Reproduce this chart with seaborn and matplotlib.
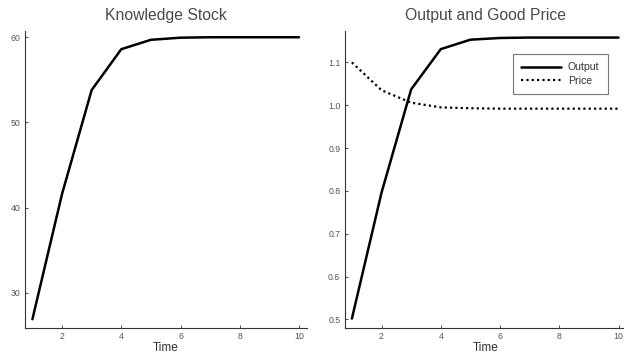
import matplotlib
matplotlib.use("Agg")
import matplotlib.pyplot as plt
import seaborn as sns
import pandas as pd

time = [1, 2, 3, 4, 5, 6, 7, 8, 9, 10]
knowledge = [26.9, 41.6, 53.8, 58.6, 59.7, 59.95, 60.0, 60.0, 60.0, 60.0]
output = [0.502, 0.796, 1.037, 1.131, 1.153, 1.157, 1.158, 1.158, 1.158, 1.158]
price = [1.100, 1.035, 1.006, 0.995, 0.993, 0.992, 0.992, 0.992, 0.992, 0.992]

sns.set_style("ticks")
plt.rcParams["font.family"] = ["Liberation Sans", "DejaVu Sans"]

df_k = pd.DataFrame({"Time": time, "Knowledge": knowledge})
df_o = pd.DataFrame({"Time": time, "Output": output, "Price": price})

fig = plt.figure(figsize=(6.24, 3.55), dpi=100)
W, H = 624, 355
axw = 282 / W
axb = 1 - 328 / H
axh = (328 - 30.7) / H
ax1 = fig.add_axes([25 / W, axb, axw, axh])
ax2 = fig.add_axes([344.5 / W, axb, axw, axh])

sns.lineplot(data=df_k, x="Time", y="Knowledge", ax=ax1, color="black", lw=1.8)
sns.lineplot(data=df_o, x="Time", y="Output", ax=ax2, color="black", lw=1.8, label="Output")
sns.lineplot(data=df_o, x="Time", y="Price", ax=ax2, color="black", lw=1.6,
             linestyle=(0, (1, 1.4)), label="Price")

ax1.set_xlim(0.75, 10.27)
ax1.set_ylim(25.87, 60.77)
ax2.set_xlim(0.75, 10.27)
ax2.set_ylim(0.48, 1.174)
ax1.set_yticks([30, 40, 50, 60])
ax2.set_yticks([0.5, 0.6, 0.7, 0.8, 0.9, 1.0, 1.1])

for ax, title in [(ax1, "Knowledge Stock"), (ax2, "Output and Good Price")]:
    ax.set_xticks([2, 4, 6, 8, 10])
    ax.set_title(title, fontsize=11.3, color="#4a4a4a", pad=8)
    ax.set_xlabel("Time", fontsize=8.5, color="#333333", labelpad=0.5)
    ax.set_ylabel("")
    for side in ("top", "right"):
        ax.spines[side].set_visible(False)
    for side in ("left", "bottom"):
        ax.spines[side].set_color("#333333")
        ax.spines[side].set_linewidth(0.8)
    ax.tick_params(direction="in", length=2.5, width=0.6, color="#333333",
                   labelsize=6.3, labelcolor="#555555", pad=3)

leg = ax2.legend(loc="upper right", bbox_to_anchor=(0.933, 0.922), borderaxespad=0,
                 fontsize=7.6, handlelength=3.8, frameon=True, fancybox=False,
                 borderpad=0.8, labelspacing=0.3, handletextpad=0.6)
leg.get_frame().set_edgecolor("#555555")
leg.get_frame().set_linewidth(0.8)
for t in leg.get_texts():
    t.set_color("#333333")

fig.savefig("out.png", dpi=100)
